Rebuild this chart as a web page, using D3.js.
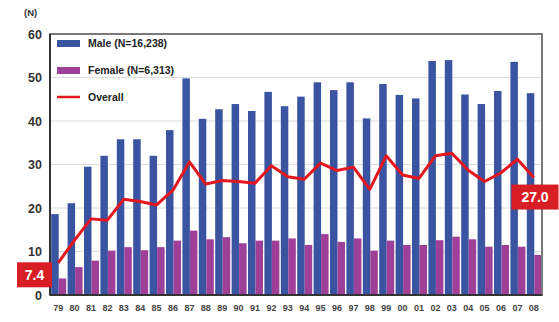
<!DOCTYPE html>
<html><head><meta charset="utf-8">
<script src="https://cdn.jsdelivr.net/npm/d3@7"></script>
<style>body{margin:0;background:#fff;}svg{display:block;font-family:"Liberation Sans",Arial,sans-serif;}</style>
</head><body><svg id="c" width="559" height="322"></svg>
<script>
const years = ["79","80","81","82","83","84","85","86","87","88","89","90","91","92","93","94","95","96","97","98","99","00","01","02","03","04","05","06","07","08"];
const male = [18.6,21.1,29.5,32.0,35.8,35.8,32.0,37.9,49.8,40.5,42.7,43.9,42.3,46.7,43.4,45.6,48.9,47.1,48.9,40.6,48.5,46.0,45.2,53.8,54.0,46.1,43.9,46.9,53.6,46.4];
const female = [3.8,6.4,7.9,10.2,11.0,10.3,11.0,12.5,14.8,12.8,13.3,11.9,12.5,12.5,13.0,11.5,14.0,12.2,13.0,10.2,12.5,11.5,11.5,12.6,13.4,12.8,11.1,11.5,11.1,9.2];
const overall = [7.4,12.6,17.5,17.2,22.0,21.5,20.7,24.1,30.6,25.5,26.3,26.1,25.7,29.7,27.2,26.6,30.3,28.6,29.4,24.3,32.0,27.6,26.8,32.0,32.6,28.7,26.1,28.1,31.2,27.0];
const yTicks = [0,10,20,30,40,50,60];
const seriesNames = ["Male (N=16,238)","Female (N=6,313)","Overall"];
const colors = {male:"#3b54a2", female:"#9e3f98", line:"#e3171e"};

const svg = d3.select("#c");
const L=50, R=542, T=34, B=295;
const x = d3.scaleBand().domain(years).range([L,R]).padding(0);
const x1 = d3.scaleBand().domain(["m","f"]).range([1.2, x.bandwidth()-0.2]).padding(0);
const y = d3.scaleLinear().domain([0,60]).range([B,T]);

// gridlines
svg.append("g").selectAll("line").data(yTicks.filter(t=>t>0 && t<60)).join("line")
  .attr("x1",L).attr("x2",R).attr("y1",d=>y(d)).attr("y2",d=>y(d))
  .attr("stroke","#dcdcdc").attr("stroke-width",1);

// bars
const g = svg.append("g");
g.selectAll(".m").data(years).join("rect").attr("class","m")
  .attr("x",d=>x(d)+x1("m")).attr("width",x1.bandwidth())
  .attr("y",(d,i)=>y(male[i])).attr("height",(d,i)=>B-y(male[i]))
  .attr("fill",colors.male);
g.selectAll(".f").data(years).join("rect").attr("class","f")
  .attr("x",d=>x(d)+x1("f")).attr("width",x1.bandwidth())
  .attr("y",(d,i)=>y(female[i])).attr("height",(d,i)=>B-y(female[i]))
  .attr("fill",colors.female);

// frame
svg.append("rect").attr("x",L).attr("y",T).attr("width",R-L).attr("height",B-T)
  .attr("fill","none").attr("stroke","#7a7a7a").attr("stroke-width",2);
svg.append("line").attr("x1",L).attr("x2",L).attr("y1",T).attr("y2",B).attr("stroke","#333").attr("stroke-width",2);
svg.append("line").attr("x1",L).attr("x2",R).attr("y1",B).attr("y2",B).attr("stroke","#333").attr("stroke-width",2);

// overall line
const line = d3.line().x((d,i)=>x(years[i])+x.bandwidth()/2).y(d=>y(d));
svg.append("path").datum(overall).attr("d",line).attr("fill","none")
  .attr("stroke",colors.line).attr("stroke-width",3).attr("stroke-linejoin","round");

// y axis
const yAxis = d3.axisLeft(y).tickValues(yTicks).tickSize(0).tickPadding(8);
const ya = svg.append("g").attr("transform",`translate(${L},0)`).call(yAxis);
ya.select(".domain").remove();
ya.selectAll("text").attr("font-size",12.5).attr("font-weight","bold").attr("fill","#333")
  .attr("font-family","'Liberation Sans',Arial,sans-serif");
svg.append("text").attr("x",24).attr("y",16).text("(N)")
  .attr("font-size",9.5).attr("font-weight","bold").attr("fill","#333");

// x axis
const xAxis = d3.axisBottom(x).tickSize(0).tickPadding(10);
const xa = svg.append("g").attr("transform",`translate(0,${B})`).call(xAxis);
xa.select(".domain").remove();
xa.selectAll("text").attr("font-size",9).attr("font-weight","bold").attr("fill","#444")
  .attr("font-family","'Liberation Sans',Arial,sans-serif");

// legend
const lg = svg.append("g");
const lx = 57, ly = [43.5, 70.5, 97];
lg.append("rect").attr("x",lx).attr("y",ly[0]-3.5).attr("width",23).attr("height",7).attr("fill",colors.male);
lg.append("rect").attr("x",lx).attr("y",ly[1]-3.5).attr("width",23).attr("height",7).attr("fill",colors.female);
lg.append("line").attr("x1",lx).attr("x2",lx+23).attr("y1",ly[2]).attr("y2",ly[2]).attr("stroke",colors.line).attr("stroke-width",2.5);
lg.selectAll("text").data(seriesNames).join("text")
  .attr("x",88).attr("y",(d,i)=>ly[i]).attr("dy","0.35em").text(d=>d)
  .attr("font-size",10.5).attr("font-weight","bold").attr("fill","#222");

// value labels
function valueBox(cx, cy, label, w){
  const h = 25;
  svg.append("rect").attr("x",cx-w/2).attr("y",cy-h/2).attr("width",w).attr("height",h).attr("fill","#d81e25");
  svg.append("text").attr("x",cx).attr("y",cy).attr("dy","0.36em").attr("text-anchor","middle")
    .text(label).attr("font-size",14).attr("font-weight","bold").attr("fill","#fff");
}
const first = overall[0], last = overall[overall.length-1];
valueBox(x(years[0]) - 15.5, y(first)+12, first.toFixed(1), 35);
valueBox(x(years[years.length-1]) + x.bandwidth() - 7, y(last)+19.5, last.toFixed(1), 47);
</script></body></html>
